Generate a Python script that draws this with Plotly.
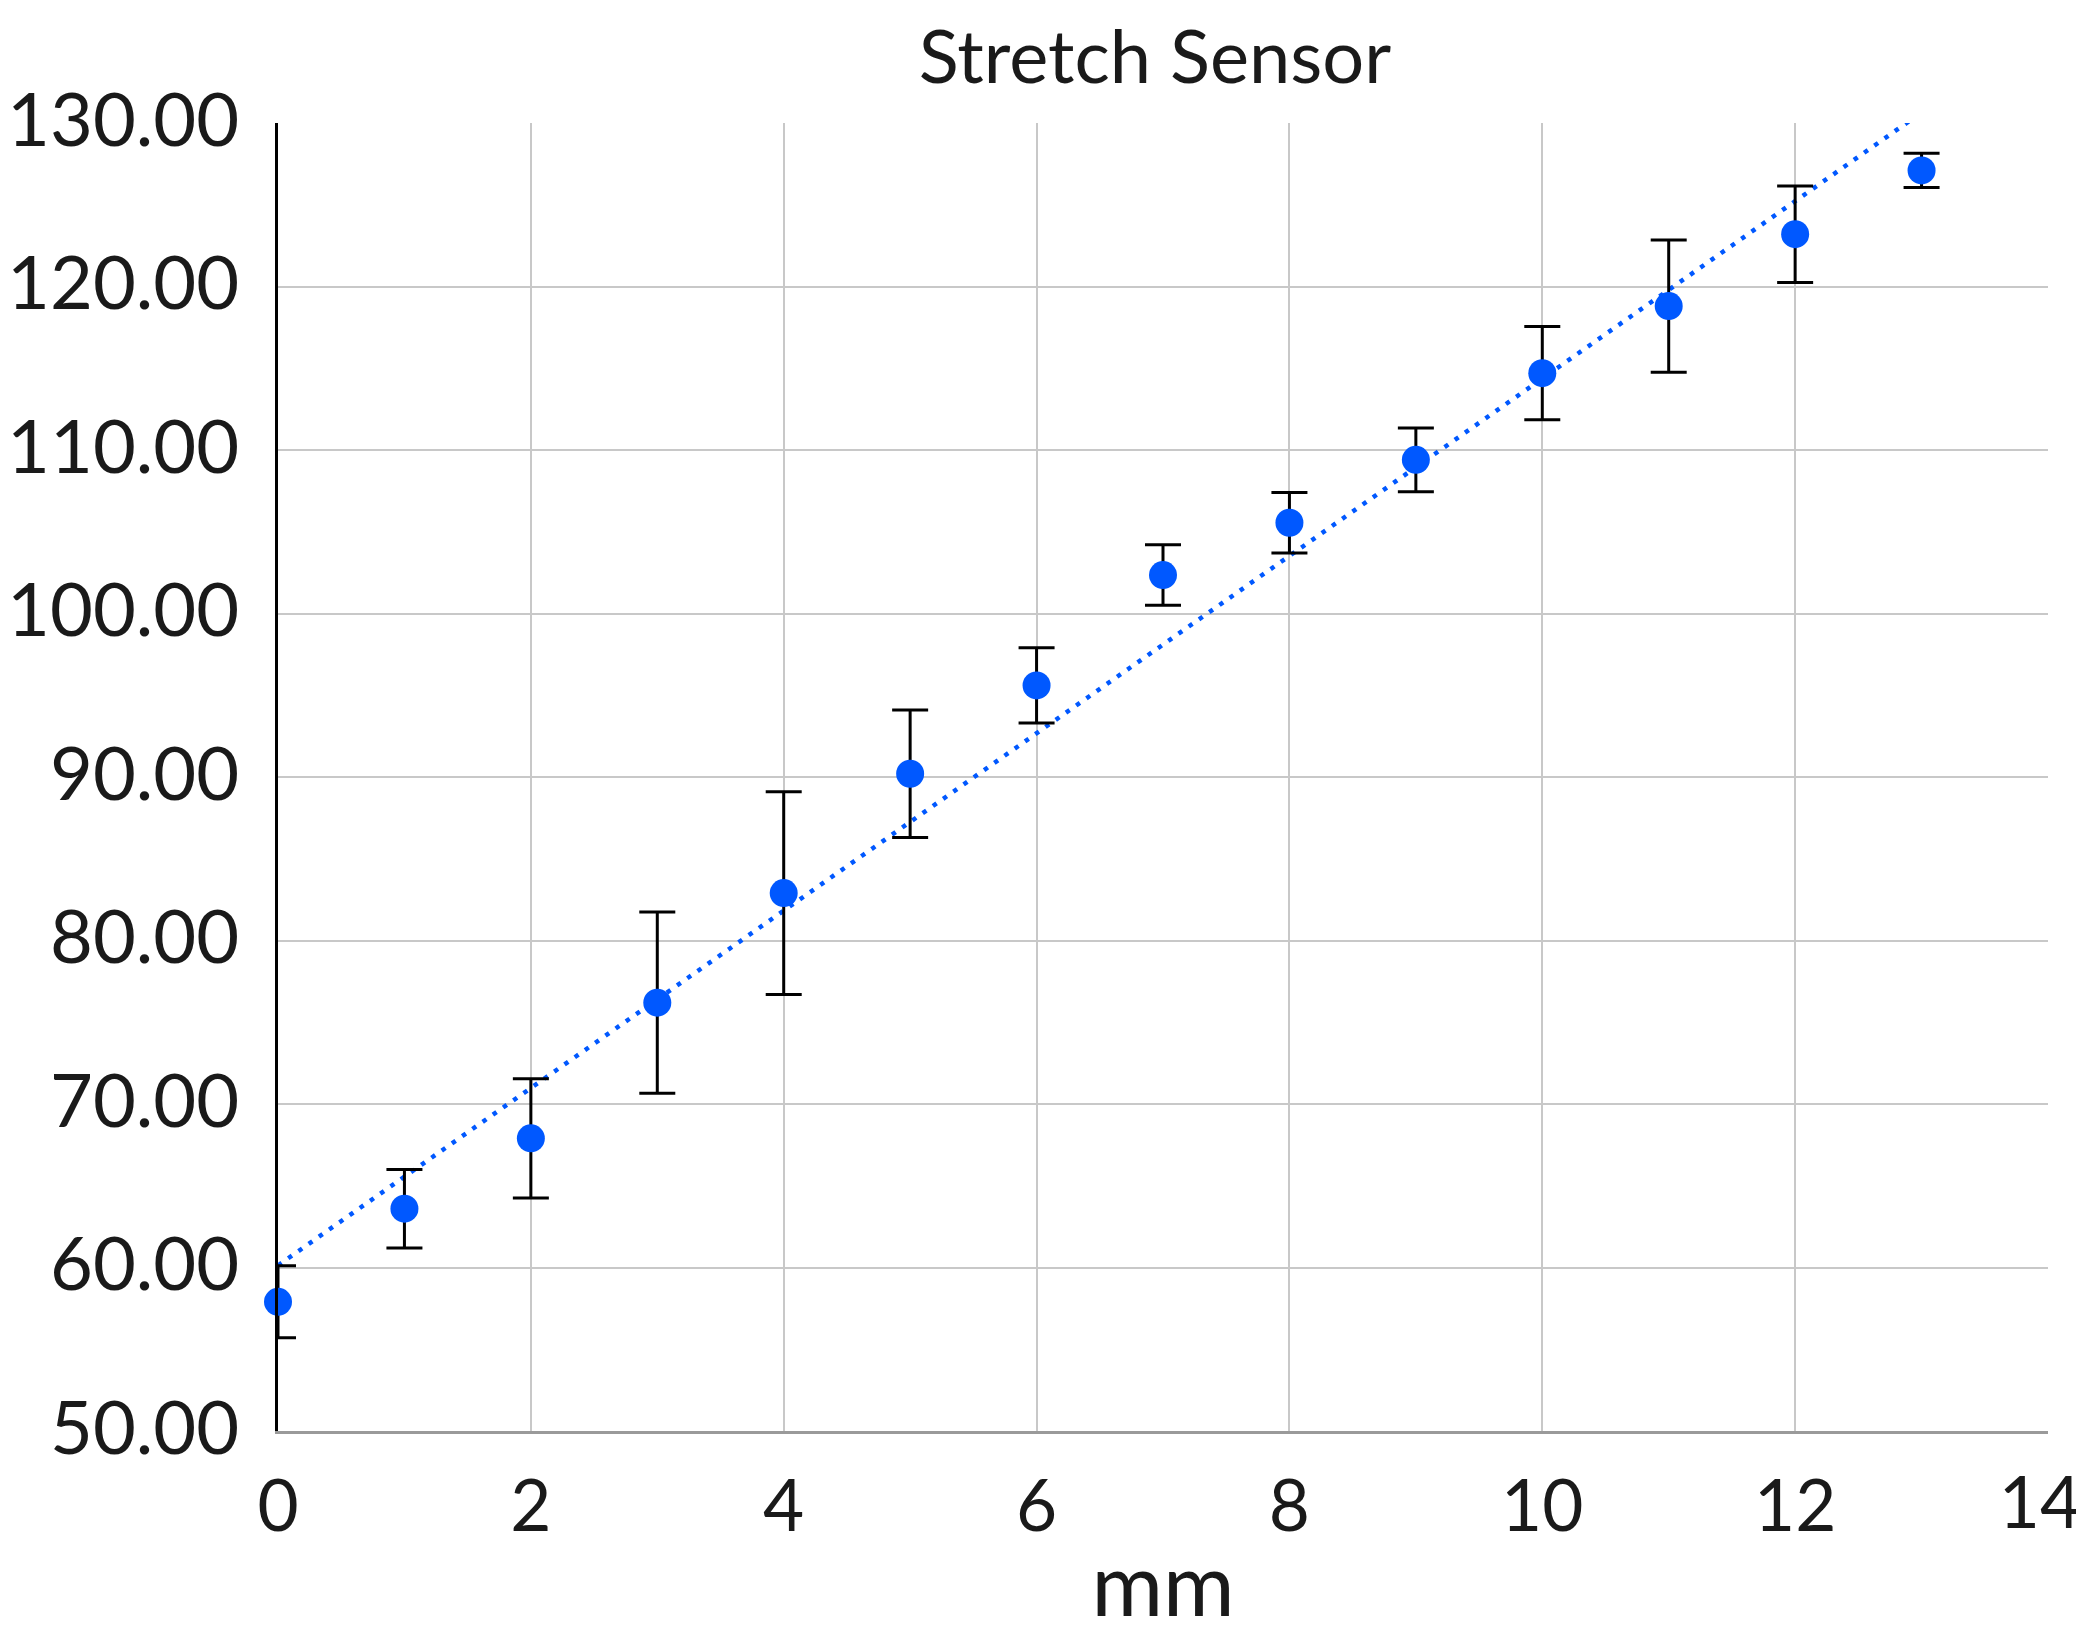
import numpy as np
import plotly.graph_objects as go

# Data
mm = [0, 1, 2, 3, 4, 5, 6, 7, 8, 9, 10, 11, 12, 13]
sensor = [57.9, 63.6, 67.9, 76.2, 82.9, 90.2, 95.6, 102.35, 105.55, 109.4, 114.7, 118.8, 123.2, 127.1]
err = [2.2, 2.4, 3.65, 5.55, 6.2, 3.9, 2.3, 1.85, 1.85, 1.95, 2.85, 4.05, 2.95, 1.05]
y_ticks = [50, 60, 70, 80, 90, 100, 110, 120, 130]
x_ticks = [0, 2, 4, 6, 8, 10, 12, 14]

BLUE = "#0058FF"
FONT = "Lato"
TXT = "#1a1a1a"

# linear trendline (least squares fit to the data)
slope, intercept = np.polyfit(mm, sensor, 1)
trend_x = [mm[0], mm[-1]]
trend_y = [intercept + slope * v for v in trend_x]

fig = go.Figure()

fig.add_trace(go.Scatter(
    x=trend_x, y=trend_y, mode="lines",
    line=dict(color=BLUE, width=4.5, dash="4.5px,8px"),
    hoverinfo="skip", showlegend=False,
))

# error bars (clipped to plot area)
fig.add_trace(go.Scatter(
    x=mm, y=sensor, mode="markers",
    marker=dict(size=1, opacity=0),
    error_y=dict(type="data", array=err, visible=True, color="black",
                 thickness=3, width=18),
    cliponaxis=True, showlegend=False, hoverinfo="skip",
))

# markers (not clipped)
fig.add_trace(go.Scatter(
    x=mm, y=sensor, mode="markers",
    marker=dict(size=28, color=BLUE, line=dict(width=0)),
    cliponaxis=False, showlegend=False,
))

# empty trace to hold the overlay axis carrying the last x tick label
fig.add_trace(go.Scatter(x=[], y=[], xaxis="x2", yaxis="y",
                         showlegend=False, hoverinfo="skip"))

tick_font_x = dict(family=FONT, size=71, color=TXT)

fig.update_layout(
    width=2084, height=1631,
    paper_bgcolor="white", plot_bgcolor="white",
    margin=dict(l=270, r=44, t=115, b=208, autoexpand=False),
    font=dict(family=FONT, color=TXT),
    title=dict(text="Stretch Sensor", x=0.5504, xref="container", xanchor="center",
               y=1 - 49 / 1631, yref="container", yanchor="middle",
               font=dict(family=FONT, size=74, color=TXT)),
    showlegend=False,
    xaxis2=dict(
        overlaying="x", anchor="y", side="bottom", range=[0, 14],
        tickvals=x_ticks[-1:], ticktext=[str(x_ticks[-1])],
        showgrid=False, showline=False, zeroline=False, ticks="",
        ticklabelstandoff=25, ticklabelshift=-8, automargin=False,
        ticklabeloverflow="allow", tickfont=tick_font_x,
    ),
)

fig.layout.xaxis.update(
    range=[0, 14], tickvals=x_ticks,
    ticktext=[str(v) for v in x_ticks[:-1]] + [""],
    showgrid=True, gridcolor="#c8c8c8", gridwidth=2,
    showline=True, linecolor="#9a9a9a", linewidth=3,
    zeroline=False, ticks="", ticklabelstandoff=12, automargin=False,
    ticklabeloverflow="allow",
    tickfont=tick_font_x,
    title=dict(text="mm", font=dict(family=FONT, size=87, color=TXT), standoff=10),
)

fig.update_yaxes(
    range=[50, 130], tickvals=y_ticks, ticktext=[f"{v:.2f}" for v in y_ticks],
    showgrid=True, gridcolor="#c8c8c8", gridwidth=2,
    showline=True, linecolor="black", linewidth=3,
    zeroline=False, ticks="", ticklabelstandoff=21, ticklabelshift=-3,
    automargin=False, ticklabeloverflow="allow",
    tickfont=dict(family=FONT, size=74, color=TXT),
)

fig.write_html("out.html")
